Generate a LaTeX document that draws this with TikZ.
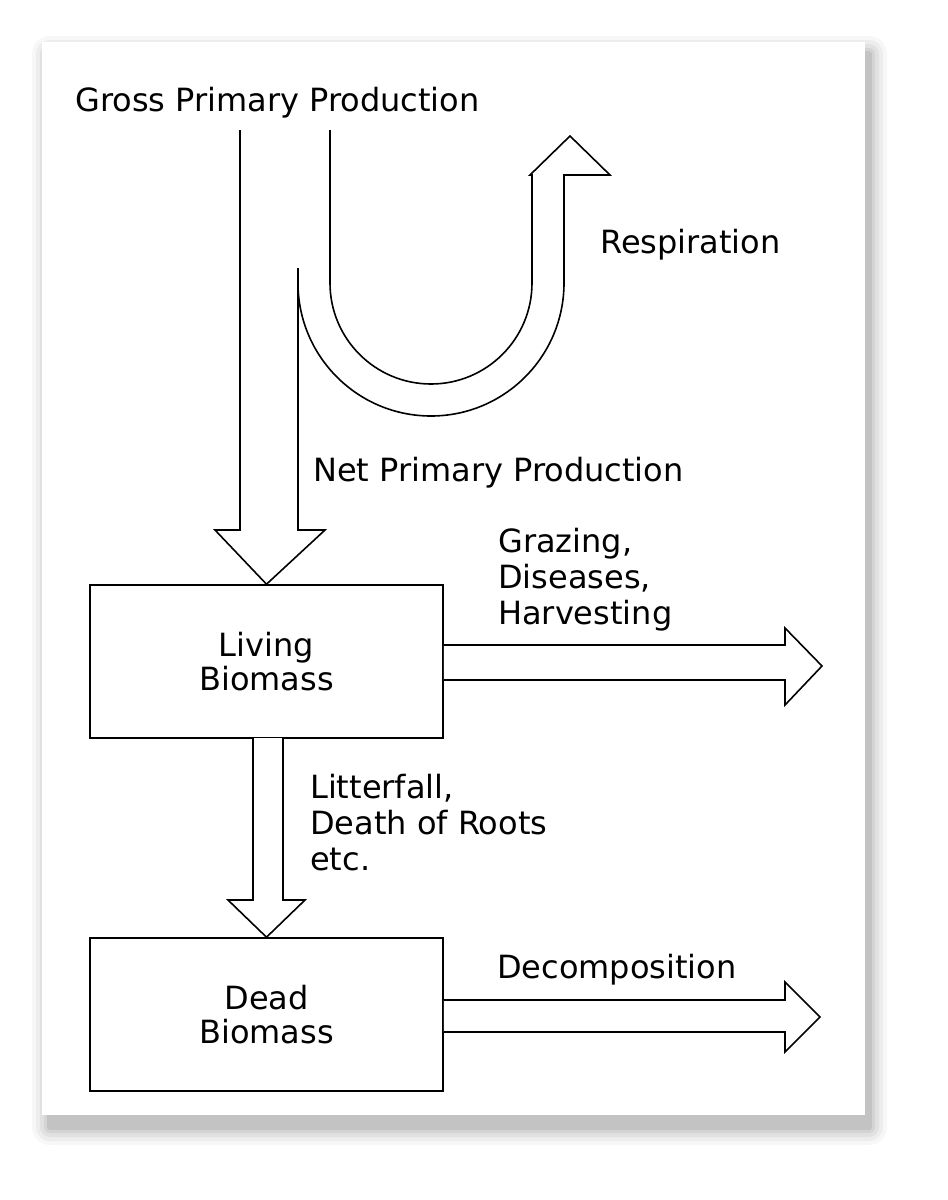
\documentclass[tikz,border=0pt]{standalone}
\usepackage{fontspec}
\setmainfont{DejaVu Sans}
\begin{document}
\begin{tikzpicture}[x=1pt,y=-1pt,
  lbl/.style={font=\fontsize{32}{36}\selectfont,inner sep=0pt,align=left},
  box/.style={draw,line width=1.6pt,minimum width=353pt,minimum height=153pt,font=\fontsize{32}{34}\selectfont,align=center,inner sep=0pt},
  ar/.style={draw,line width=1.6pt,line join=miter,fill=white}]
\useasboundingbox (0,0) rectangle (948,1200);
% shadow
\foreach \i/\o in {18/0.03,14/0.04,10/0.05,6/0.06,3/0.08}{
  \fill[black,opacity=\o,rounded corners=\i pt] (42-\i+8,42-\i+12) rectangle (865+\i+4,1115+\i+12);}
\fill[white] (42,42) rectangle (865,1115);
% texts
\node[lbl,anchor=west] (gpp) at (75,103) {Gross Primary Production};
\node[lbl,anchor=west] (resp) at (600,245) {Respiration};
\node[lbl,anchor=west] (npp) at (313,473) {Net Primary Production};
\node[lbl,anchor=west] (graz) at (498,580) {Grazing,\\Diseases,\\Harvesting};
\node[lbl,anchor=west] (litt) at (310,823) {Litterfall,\\Death of Roots\\etc.};
\node[lbl,anchor=west] (dec) at (497,970) {Decomposition};
% boxes
\node[box] (living) at (266.5,661.5) {Living\\Biomass};
\node[box] (dead) at (266.5,1014.5) {Dead\\Biomass};
% GPP / NPP arrow
\draw[line width=1.6pt,line join=miter] (240,130) -- (240,530) -- (215,530) -- (living.north) -- (325,530) -- (298,530) -- (298,268);
\draw[line width=1.6pt] (330,130) -- (330,283) arc[start angle=180,end angle=0,radius=101] -- (532,175) -- (530,175);
\draw[line width=1.6pt,line join=miter] (298,283) arc[start angle=180,end angle=0,radius=133] -- (564,175) -- (610,175) -- (570,136) -- (530,175) -- (532,175);
% grazing arrow
\draw[ar] (living.east |- 0,645) -- (785,645) -- (785,628) -- (822,666) -- (785,705) -- (785,680) -- (living.east |- 0,680);
% litterfall arrow
\draw[ar] (253,738) -- (253,900) -- (228,900) -- (dead.north) -- (305,900) -- (283,900) -- (283,738);
% decomposition arrow
\draw[ar] (dead.east |- 0,1000) -- (785,1000) -- (785,982) -- (820,1017) -- (785,1052) -- (785,1032) -- (dead.east |- 0,1032);
\end{tikzpicture}
\end{document}
